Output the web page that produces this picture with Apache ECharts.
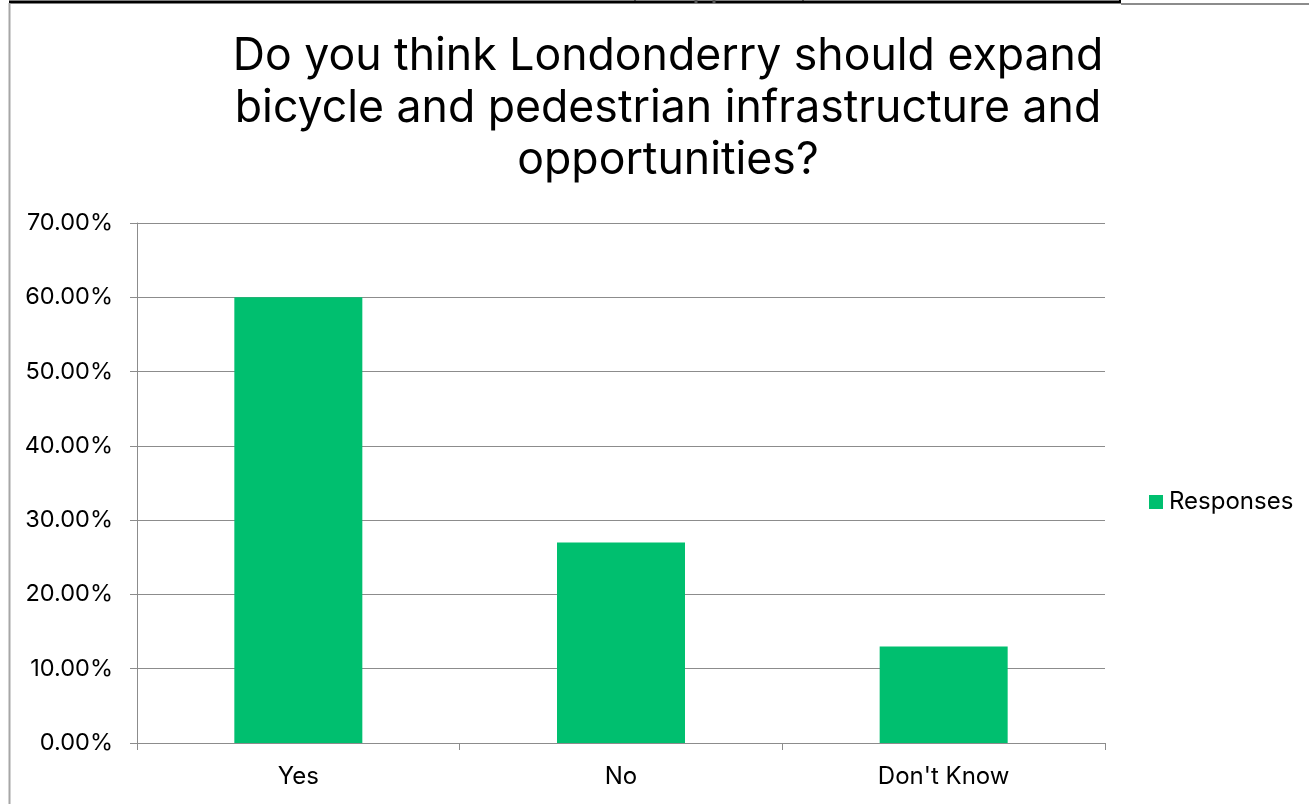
<!DOCTYPE html>
<html>
<head>
<meta charset="utf-8">
<script src="https://cdn.jsdelivr.net/npm/echarts@6/dist/echarts.min.js"></script>
<style>
html,body{margin:0;padding:0;background:#fff;}
#chart{width:1309px;height:804px;}
</style>
</head>
<body>
<div id="chart"></div>
<script>
const titleText = 'Do you think Londonderry should expand\nbicycle and pedestrian infrastructure and\nopportunities?';
const categories = ['Yes', 'No', "Don't Know"];
const seriesName = 'Responses';
const responses = [0.60, 0.27, 0.13];
const yMin = 0, yMax = 0.7, yInterval = 0.1;

const FONT = 'Inter, "Liberation Sans", Arial, sans-serif';
const chart = echarts.init(document.getElementById('chart'), null, {renderer: 'canvas'});
chart.setOption({
  backgroundColor: '#ffffff',
  animation: false,
  title: {
    text: titleText,
    left: 663,
    top: 26,
    textAlign: 'center',
    textStyle: {fontFamily: FONT, fontSize: 44.6, fontWeight: 'normal', color: '#000', lineHeight: 52}
  },
  legend: {
    data: [seriesName],
    orient: 'vertical',
    left: 1144,
    top: 485,
    itemWidth: 14,
    itemHeight: 14,
    itemGap: 6,
    icon: 'rect',
    textStyle: {fontFamily: FONT, fontSize: 24, color: '#000', padding: [0, 0, 0, 1]}
  },
  grid: {left: 137, right: 204, top: 223, bottom: 61, containLabel: false},
  xAxis: {
    type: 'category',
    data: categories,
    axisLine: {lineStyle: {color: '#8c8c8c', width: 1}},
    axisTick: {show: true, length: 7, lineStyle: {color: '#8c8c8c'}},
    axisLabel: {fontFamily: FONT, fontSize: 24, color: '#000', margin: 22}
  },
  yAxis: {
    type: 'value',
    min: yMin, max: yMax, interval: yInterval,
    axisLine: {show: true, lineStyle: {color: '#8c8c8c', width: 1}},
    axisTick: {show: true, length: 7, lineStyle: {color: '#8c8c8c'}},
    splitLine: {lineStyle: {color: '#8c8c8c', width: 1}},
    axisLabel: {fontFamily: FONT, fontSize: 23.5, color: '#000', margin: 24,
      formatter: v => (v * 100).toFixed(2) + '%'}
  },
  series: [{
    name: seriesName,
    type: 'bar',
    data: responses,
    barWidth: 128,
    itemStyle: {color: '#00BF6F'}
  }],
  graphic: [
    {type: 'line', shape: {x1: 9, y1: 2, x2: 1121, y2: 2}, style: {stroke: '#000', lineWidth: 3}, silent: true},
    {type: 'line', shape: {x1: 1121, y1: 4, x2: 1309, y2: 4}, style: {stroke: '#8c8c8c', lineWidth: 2}, silent: true},
    {type: 'line', shape: {x1: 9.5, y1: 3, x2: 9.5, y2: 804}, style: {stroke: '#a6a6a6', lineWidth: 2}, silent: true},
    {type: 'line', shape: {x1: 635, y1: 0, x2: 635, y2: 3}, style: {stroke: '#000', lineWidth: 1}, silent: true},
    {type: 'line', shape: {x1: 696, y1: 0, x2: 696, y2: 3}, style: {stroke: '#555', lineWidth: 3}, silent: true},
    {type: 'line', shape: {x1: 714, y1: 0, x2: 714, y2: 3}, style: {stroke: '#555', lineWidth: 3}, silent: true},
    {type: 'line', shape: {x1: 803, y1: 0, x2: 803, y2: 3}, style: {stroke: '#000', lineWidth: 1}, silent: true},
    {type: 'line', shape: {x1: 1120, y1: 0, x2: 1120, y2: 3}, style: {stroke: '#000', lineWidth: 2}, silent: true}
  ]
});
</script>
</body>
</html>
